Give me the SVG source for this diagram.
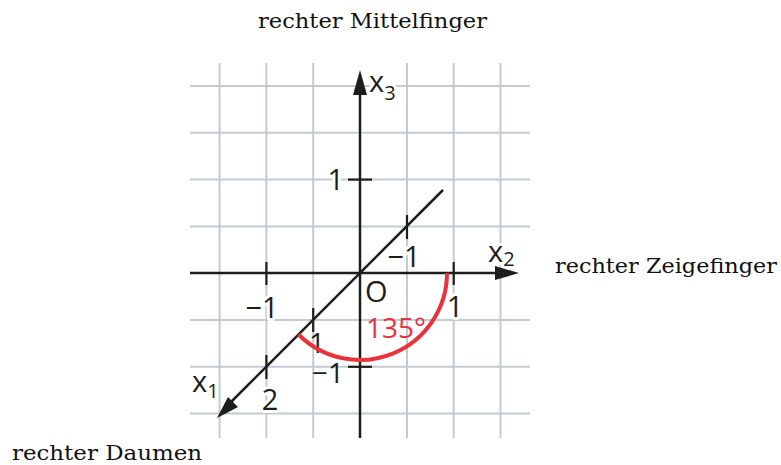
<svg xmlns="http://www.w3.org/2000/svg" width="781" height="465" viewBox="0 0 781 465">
<style>
.grid line{stroke:#c3cbd0;stroke-width:2}
.ax{stroke:#1d1d1b;stroke-width:2.5;fill:none}
.tk{stroke:#1d1d1b;stroke-width:2.2}
.ah{fill:#1d1d1b}
.lb{font-family:"Open Sans","Noto Sans",sans-serif;font-size:29px;fill:#1d1d1b;stroke:#fff;stroke-width:6;paint-order:stroke;stroke-linejoin:round}
.sub{font-size:20px}
.nl{font-family:"Open Sans","Noto Sans",sans-serif;font-size:28px;fill:#1d1d1b}
.sf{font-family:"DejaVu Serif","Liberation Serif",serif;font-size:21px;fill:#111}
.red{stroke:#e8323c;stroke-width:4;fill:none}
.rt{font-family:"Open Sans","Noto Sans",sans-serif;font-size:28px;fill:#e8323c}
</style>
<rect width="781" height="465" fill="#fff"/>
<g id="grid" class="grid">
<line x1="219.6" y1="63" x2="219.6" y2="438"/>
<line x1="266.4" y1="63" x2="266.4" y2="438"/>
<line x1="313.2" y1="63" x2="313.2" y2="438"/>
<line x1="407" y1="63" x2="407" y2="438"/>
<line x1="453.7" y1="63" x2="453.7" y2="438"/>
<line x1="500.5" y1="63" x2="500.5" y2="438"/>
<line x1="190" y1="86" x2="530" y2="86"/>
<line x1="190" y1="132.8" x2="530" y2="132.8"/>
<line x1="190" y1="179.6" x2="530" y2="179.6"/>
<line x1="190" y1="226.4" x2="530" y2="226.4"/>
<line x1="190" y1="320" x2="530" y2="320"/>
<line x1="190" y1="366.8" x2="530" y2="366.8"/>
<line x1="190" y1="413.6" x2="530" y2="413.6"/>
</g>
<g id="labels">
<text class="lb" x="344" y="190" text-anchor="end">1</text>
<text class="lb" x="369" y="92">x<tspan class="sub" dy="8">3</tspan></text>
<text class="lb" x="488" y="262">x<tspan class="sub" dy="4">2</tspan></text>
<text class="lb" x="192" y="392">x<tspan class="sub" dy="6">1</tspan></text>
<text class="lb" x="404" y="267" text-anchor="middle">−1</text>
<text class="lb" x="262" y="318" text-anchor="middle">−1</text>
<text class="lb" x="455" y="317" text-anchor="middle">1</text>
<text class="lb" x="365" y="302">O</text>
<text class="lb" x="270" y="410" text-anchor="middle">2</text>
<text class="nl" x="344" y="383" text-anchor="end">−1</text>
<text class="nl" x="317" y="353" text-anchor="middle" font-size="20">1</text>
</g>
<g id="axes">
<line class="ax" x1="360" y1="438" x2="360" y2="80"/>
<line class="ax" x1="190" y1="273" x2="505" y2="273"/>
<line class="ax" x1="443" y1="190" x2="226" y2="407"/>
<polygon class="ah" points="360,70 353,95 367,95"/>
<polygon class="ah" points="519,273 495,266 495,280"/>
<polygon class="ah" points="217,418 238,407 228,397"/>
</g>
<g id="ticks">
<line class="tk" x1="266.4" y1="262" x2="266.4" y2="285"/>
<line class="tk" x1="453.7" y1="262" x2="453.7" y2="285"/>
<line class="tk" x1="348" y1="179.6" x2="372" y2="179.6"/>
<line class="tk" x1="348" y1="366.8" x2="372" y2="366.8"/>
<line class="tk" x1="407" y1="215" x2="407" y2="239"/>
<line class="tk" x1="313.2" y1="308" x2="313.2" y2="332"/>
<line class="tk" x1="266.4" y1="355" x2="266.4" y2="379"/>
</g>
<g id="angle">
<path class="red" d="M447 273 A87 87 0 0 1 298.5 334.5"/>
<text class="rt" x="366" y="338">135°</text>
</g>
<g id="fingers">
<text class="sf" x="258" y="28" textLength="229" lengthAdjust="spacingAndGlyphs">rechter Mittelfinger</text>
<text class="sf" x="555" y="273" textLength="222" lengthAdjust="spacingAndGlyphs">rechter Zeigefinger</text>
<text class="sf" x="12" y="460" textLength="190" lengthAdjust="spacingAndGlyphs">rechter Daumen</text>
</g>
</svg>
